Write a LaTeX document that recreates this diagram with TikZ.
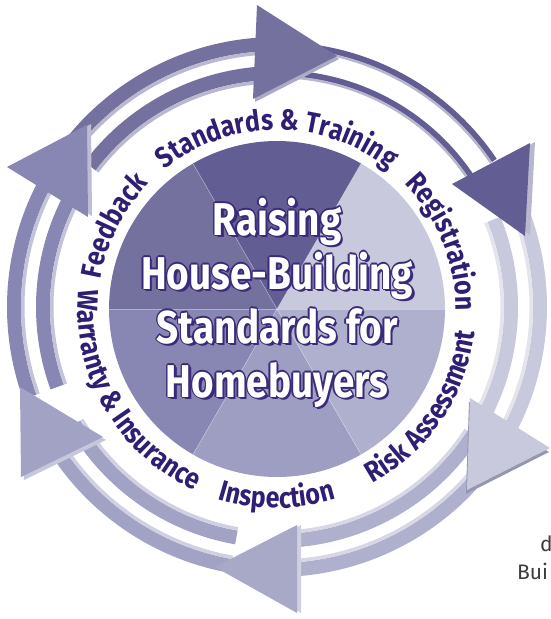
\documentclass[tikz,border=0pt]{standalone}
\usepackage{fontspec}
\setmainfont{Fira Sans}
\newfontfamily\ringfont[FakeStretch=0.86]{Fira Sans}
\newfontfamily\titlefont[FakeStretch=0.84]{Fira Sans}
\usetikzlibrary{decorations.text}
\definecolor{wedgeA}{HTML}{74719F}
\definecolor{wedgeB}{HTML}{625E93}
\definecolor{wedgeC}{HTML}{C8C9DC}
\definecolor{wedgeD}{HTML}{AFB0CE}
\definecolor{wedgeE}{HTML}{9D9EC2}
\definecolor{wedgeF}{HTML}{8886B2}
\definecolor{arrowE}{HTML}{A2A2C5}
\definecolor{labelink}{HTML}{2F1E73}
\definecolor{titleink}{HTML}{3A2A7A}
\definecolor{sidegray}{HTML}{3C3C3C}
\newcommand{\lblfont}{\ringfont\bfseries\fontsize{29}{29}\selectfont}

\begin{document}
\begin{tikzpicture}[x=1pt,y=1pt,
    band/.style={line width=14pt},
    thinband/.style={line width=6pt},
    glint/.style={line width=3.5pt},
    ringlabel/.style={decorate, decoration={text along path, text align=center, text color=labelink, #1}},
    titleline/.style={anchor=base, inner sep=0pt, font=\titlefont\bfseries\fontsize{46}{50}\selectfont}]
    \fill[white] (0,0) rectangle (550,-619);
    \useasboundingbox (0,0) rectangle (550,-619);

    % arrow shafts, two rings
    \begin{scope}[shift={(277,-307)}]
        \foreach \col/\from/\to in {wedgeA/143/94, wedgeC/22/-28, wedgeD/-33/-86, arrowE/-100/-150, wedgeF/200/150} {
            \draw[band, color=\col] (\from:263) arc[start angle=\from, end angle=\to, radius=263];
            \draw[glint, color=\col!50!white] (\from:254.25) arc[start angle=\from, end angle=\to, radius=254.25];
            \draw[band, color=\col] (\from:234) arc[start angle=\from, end angle=\to, radius=234];
            \draw[glint, color=\col!50!white] (\from:225.25) arc[start angle=\from, end angle=\to, radius=225.25];
        }
        \draw[thinband, wedgeB] (88:262) arc[start angle=88, end angle=34, radius=262];
        \draw[glint, wedgeB!45!white, line width=2.5pt] (88:258) arc[start angle=88, end angle=34, radius=258];
        \draw[thinband, wedgeB] (88:234) arc[start angle=88, end angle=34, radius=234];
        \draw[glint, wedgeB!45!white, line width=2.5pt] (88:230) arc[start angle=88, end angle=34, radius=230];
    \end{scope}

    % arrow heads
    \fill[wedgeA!60!white] (259,-8) -- (339,-59) -- (255,-102) -- cycle;
    \fill[wedgeA] (257,-5) -- (337,-56) -- (253,-99) -- cycle;
    \fill[wedgeB!45!white] (535,-142) -- (457,-183) -- (530,-235) -- cycle;
    \fill[wedgeB] (530,-143) -- (452,-184) -- (525,-236) -- cycle;
    \fill[wedgeD!85!black] (469,-402) -- (549,-452) -- (466,-494) -- cycle;
    \fill[wedgeC] (470,-398) -- (550,-448) -- (467,-490) -- cycle;
    \fill[wedgeD!60!white] (301,-525) -- (219,-567) -- (301,-613) -- cycle;
    \fill[wedgeD!96!black] (297,-525) -- (215,-567) -- (297,-613) -- cycle;
    \fill[arrowE!60!white] (23,-390) -- (106,-440) -- (24,-480) -- cycle;
    \fill[arrowE] (20,-387) -- (103,-437) -- (21,-477) -- cycle;
    \fill[wedgeF!55!white] (11,-166) -- (91,-124) -- (92,-216) -- cycle;
    \fill[wedgeF] (7,-167) -- (87,-125) -- (88,-217) -- cycle;

    % pie of six wedges
    \begin{scope}[shift={(277,-309)}]
        \foreach \col [count=\k from 0] in {wedgeC, wedgeB, wedgeA, wedgeF, wedgeE, wedgeD} {
            \fill[color=\col] (0,0) -- (\k*60:168) arc[start angle=\k*60, delta angle=60, radius=168] -- cycle;
        }
        \foreach \a in {0,60,...,300} {
            \draw[white, opacity=0.35, line width=0.6pt] (0,0) -- (\a:168);
        }

        % ring labels
        \path[ringlabel={text={|\lblfont|Standards {\&} Training}}] (147:179) arc[start angle=147, end angle=33, radius=179];
        \path[ringlabel={text={|\lblfont|Registration}}] (82:179) arc[start angle=82, end angle=-38, radius=179];
        \path[ringlabel={text={|\lblfont|Feedback}}] (203:179) arc[start angle=203, end angle=103, radius=179];
        \path[ringlabel={text={|\lblfont|Risk Assessment}}] (-94:199) arc[start angle=-94, end angle=26, radius=199];
        \path[ringlabel={text={|\lblfont|Inspection}}] (-150:199) arc[start angle=-150, end angle=-30, radius=199];
        \path[ringlabel={text={|\lblfont|Warranty {\&} Insurance}}] (150:199) arc[start angle=150, end angle=270, radius=199];
    \end{scope}

    % title
    \foreach \txt [count=\i] in {Raising, House-Building, Standards for, Homebuyers} {
        \pgfmathsetmacro{\yy}{-235-54*(\i-1)}
        \node[titleline, text=titleink] (ttls-\i) at (279.5,\yy-2.5) {\txt};
        \foreach \a in {0,45,...,315} {
            \node[titleline, text=titleink, shift={(\a:1.4)}] (ttlo-\i-\a) at (277,\yy) {\txt};
        }
        \node[titleline, text=white] (ttl-\i) at (277,\yy) {\txt};
    }

    % cut text at the right edge
    \node[anchor=base west, inner sep=0pt, text=sidegray, font=\fontsize{21}{21}\selectfont] (sidea) at (540,-551) {d};
    \node[anchor=base west, inner sep=0pt, text=sidegray, font=\fontsize{21}{21}\selectfont] (sideb) at (517,-579) {Bui};
\end{tikzpicture}
\end{document}
